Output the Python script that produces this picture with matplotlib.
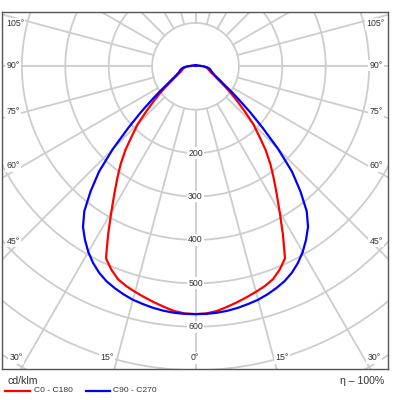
import numpy as np
import matplotlib
matplotlib.use("Agg")
import matplotlib.pyplot as plt

# ---------------- data (cd/klm) ----------------
angles = [0, 2.5, 5, 7.5, 10, 12.5, 15, 17.5, 20, 22.5, 25, 27.5, 30, 32.5, 35, 37.5, 40,
          42.5, 45, 47.5, 50, 52.5, 55, 57.5, 60, 62.5, 65, 67.5, 70, 75, 80, 85, 90,
          95, 100, 110, 120, 135, 150, 165, 180]
c0_c180 = [571, 570, 566, 559, 552, 545, 538, 531, 522, 507, 488, 436, 388, 348, 314, 283, 251,
           216, 188, 154, 127, 105, 86, 70, 59, 51, 45, 40, 36, 32, 28, 24, 18,
           11, 8, 5, 4, 3, 2, 2, 2]
c90_c270 = [571, 571, 570, 568, 565, 561, 557, 551, 544, 536, 525, 511, 494, 474, 452, 421, 376,
            329, 269, 210, 164, 126, 99, 78, 66, 56, 49, 45, 41, 37, 33, 27, 18,
            11, 8, 5, 4, 3, 2, 2, 2]
ring_values = [100, 200, 300, 400, 500, 600, 700, 800]
ring_labels = [200, 300, 400, 500, 600]
spoke_angles = list(range(0, 360, 15))
angle_labels = ["105°", "90°", "75°", "60°", "45°", "30°", "15°", "0°",
                "15°", "30°", "45°", "60°", "75°", "90°", "105°"]
series_names = ["C0 - C180", "C90 - C270"]
unit_label = "cd/klm"
eta_label = "η – 100%"

# ---------------- layout ----------------
W = H = 400
S = 0.434           # px per cd/klm
CX, CY = 195.5, 66.3  # centre in px (from top-left)
FL, FR, FT, FB = 2, 388, 12, 369

def px2data(px, py):
    return (px - CX) / S, -(py - CY) / S

FONT = ["Liberation Sans", "DejaVu Sans"]
GRID = "#cdcdcd"
TXT = "#333333"

fig = plt.figure(figsize=(W / 100, H / 100), dpi=100)
ax = fig.add_axes([FL / W, 1 - FB / H, (FR - FL) / W, (FB - FT) / H])
x0, y1 = px2data(FL, FT)
x1, y0 = px2data(FR, FB)
ax.set_xlim(x0, x1)
ax.set_ylim(y0, y1)
ax.set_xticks([])
ax.set_yticks([])
for sp in ax.spines.values():
    sp.set_color("#555555")
    sp.set_linewidth(1.0)

# rings
t = np.linspace(0, 2 * np.pi, 721)
for r in ring_values:
    ax.plot(r * np.cos(t), r * np.sin(t), color=GRID, lw=1.3, zorder=1)
# spokes (from innermost ring outwards)
r_in, r_out = ring_values[0], 1200
for a in spoke_angles:
    th = np.radians(a)
    ax.plot([r_in * np.sin(th), r_out * np.sin(th)],
            [-r_in * np.cos(th), -r_out * np.cos(th)], color=GRID, lw=1.3, zorder=1)

# curves (mirror for both halves)
def full_curve(vals):
    a = np.radians(np.array(angles, float))
    v = np.array(vals, float)
    aa = np.concatenate([-a[::-1], a[1:]])
    vv = np.concatenate([v[::-1], v[1:]])
    return vv * np.sin(aa), -vv * np.cos(aa)

xr, yr = full_curve(c0_c180)
xb, yb = full_curve(c90_c270)
ax.plot(xr, yr, color="#ff0000", lw=1.6, zorder=3, solid_joinstyle="round")
ax.plot(xb, yb, color="#0000ff", lw=1.6, zorder=4, solid_joinstyle="round")

bbox = dict(boxstyle="square,pad=0.15", fc="white", ec="none")
# ring value labels along the 0° spoke
for r in ring_labels:
    ax.text(0, -r, str(r), ha="center", va="center", fontsize=6.3, color=TXT,
            family=FONT, bbox=bbox, zorder=5)

# angle labels along the frame
label_px = [(15, 24), (13, 65.5), (13, 112), (13, 166), (13, 241), (16, 358), (107, 358), (195, 358),
            (282, 358), (374, 358), (376, 241), (376, 166), (376, 112), (376, 65.5), (375, 24)]
for txt, (px, py) in zip(angle_labels, label_px):
    x, y = px2data(px, py)
    ax.text(x, y, txt, ha="center", va="center", fontsize=6.3, color=TXT,
            family=FONT, bbox=bbox, zorder=5)

# legend / captions
fig.text(8 / W, 1 - 381 / H, unit_label, ha="left", va="center", fontsize=7.6,
         color=TXT, family=FONT)
fig.text(384 / W, 1 - 381 / H, eta_label, ha="right", va="center", fontsize=7.6,
         color=TXT, family=FONT)
ly = 1 - 391 / H
fig.add_artist(plt.Line2D([5 / W, 30 / W], [ly, ly], color="#ff0000", lw=1.6))
fig.text(34 / W, ly, series_names[0], ha="left", va="center", fontsize=6.1,
         color=TXT, family=FONT)
fig.add_artist(plt.Line2D([86 / W, 110 / W], [ly, ly], color="#0000ff", lw=1.6))
fig.text(113 / W, ly, series_names[1], ha="left", va="center", fontsize=6.1,
         color=TXT, family=FONT)

fig.savefig("out.png", dpi=100, facecolor="white")
